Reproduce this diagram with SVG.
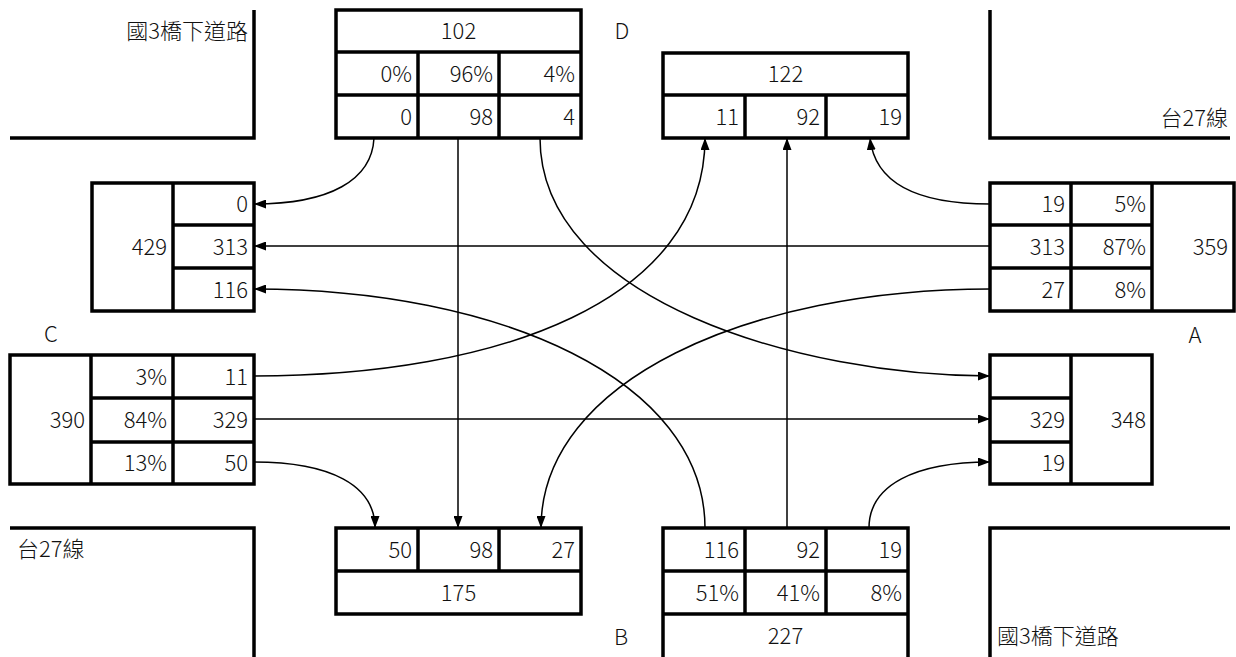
<svg xmlns="http://www.w3.org/2000/svg" width="1236" height="657" viewBox="0 0 1236 657">
<style>
.road{fill:none;stroke:#000;stroke-width:3.5}
.box rect,.box line{fill:none;stroke:#000;stroke-width:3.5}
text{font-family:"Noto Sans CJK TC","Noto Sans",sans-serif;font-size:22px;font-weight:300;fill:#111}
.r{text-anchor:end}
.c{text-anchor:middle}
.conn path{fill:none;stroke:#000;stroke-width:1.5;marker-end:url(#ah)}
</style>
<defs>
<marker id="ah" markerWidth="12" markerHeight="9" refX="12" refY="4.5" orient="auto" markerUnits="userSpaceOnUse"><path d="M0,0 L12,4.5 L0,9 z" fill="#000"/></marker>
</defs>
<rect width="1236" height="657" fill="#fff"/>
<g id="roads">
<path class="road" d="M10,138 H254 V10"/>
<path class="road" d="M990,10 V138 H1230"/>
<path class="road" d="M10,528 H254 V657"/>
<path class="road" d="M1230,528 H990 V657"/>
<text class="r" x="248" y="39">國3橋下道路</text>
<text class="r" x="1228" y="126">台27線</text>
<text x="17" y="557">台27線</text>
<text x="997" y="644">國3橋下道路</text>
</g>
<g id="labels">
<text class="c" x="622" y="39">D</text>
<text class="c" x="1195" y="343">A</text>
<text class="c" x="51" y="342">C</text>
<text class="c" x="621" y="645">B</text>
</g>
<g id="boxD" class="box">
<rect x="336" y="10" width="245" height="128"/>
<line x1="336" y1="52" x2="581" y2="52"/><line x1="336" y1="95" x2="581" y2="95"/>
<line x1="418" y1="52" x2="418" y2="138"/><line x1="499" y1="52" x2="499" y2="138"/>
<text class="c" x="458.5" y="39">102</text>
<text class="r" x="412" y="82">0%</text><text class="r" x="493" y="82">96%</text><text class="r" x="575" y="82">4%</text>
<text class="r" x="412" y="125">0</text><text class="r" x="493" y="125">98</text><text class="r" x="575" y="125">4</text>
</g>
<g id="boxDin" class="box">
<rect x="663" y="53" width="245" height="85"/>
<line x1="663" y1="95" x2="908" y2="95"/>
<line x1="745" y1="95" x2="745" y2="138"/><line x1="826" y1="95" x2="826" y2="138"/>
<text class="c" x="785.5" y="82">122</text>
<text class="r" x="739" y="125">11</text><text class="r" x="820" y="125">92</text><text class="r" x="902" y="125">19</text>
</g>
<g id="boxCin" class="box">
<rect x="92" y="183" width="162" height="128"/>
<line x1="173" y1="183" x2="173" y2="311"/>
<line x1="173" y1="225" x2="254" y2="225"/><line x1="173" y1="268" x2="254" y2="268"/>
<text class="r" x="167" y="255">429</text>
<text class="r" x="248" y="212">0</text><text class="r" x="248" y="255">313</text><text class="r" x="248" y="298">116</text>
</g>
<g id="boxA" class="box">
<rect x="990" y="183" width="244" height="128"/>
<line x1="1071" y1="183" x2="1071" y2="311"/><line x1="1152" y1="183" x2="1152" y2="311"/>
<line x1="990" y1="225" x2="1152" y2="225"/><line x1="990" y1="268" x2="1152" y2="268"/>
<text class="r" x="1065" y="212">19</text><text class="r" x="1065" y="255">313</text><text class="r" x="1065" y="298">27</text>
<text class="r" x="1146" y="212">5%</text><text class="r" x="1146" y="255">87%</text><text class="r" x="1146" y="298">8%</text>
<text class="r" x="1228" y="255">359</text>
</g>
<g id="boxC" class="box">
<rect x="10" y="355" width="244" height="129"/>
<line x1="91" y1="355" x2="91" y2="484"/><line x1="173" y1="355" x2="173" y2="484"/>
<line x1="91" y1="398" x2="254" y2="398"/><line x1="91" y1="442" x2="254" y2="442"/>
<text class="r" x="85" y="428">390</text>
<text class="r" x="167" y="385">3%</text><text class="r" x="167" y="428">84%</text><text class="r" x="167" y="471">13%</text>
<text class="r" x="248" y="385">11</text><text class="r" x="248" y="428">329</text><text class="r" x="248" y="471">50</text>
</g>
<g id="boxAin" class="box">
<rect x="990" y="355" width="162" height="129"/>
<line x1="1071" y1="355" x2="1071" y2="484"/>
<line x1="990" y1="398" x2="1071" y2="398"/><line x1="990" y1="442" x2="1071" y2="442"/>
<text class="r" x="1065" y="428">329</text><text class="r" x="1065" y="471">19</text>
<text class="r" x="1146" y="428">348</text>
</g>
<g id="boxBin" class="box">
<rect x="336" y="528" width="245" height="86"/>
<line x1="336" y1="571" x2="581" y2="571"/>
<line x1="418" y1="528" x2="418" y2="571"/><line x1="499" y1="528" x2="499" y2="571"/>
<text class="r" x="412" y="558">50</text><text class="r" x="493" y="558">98</text><text class="r" x="575" y="558">27</text>
<text class="c" x="458.5" y="601">175</text>
</g>
<g id="boxB" class="box">
<rect x="663" y="528" width="245" height="132"/>
<line x1="663" y1="571" x2="908" y2="571"/><line x1="663" y1="614" x2="908" y2="614"/>
<line x1="745" y1="528" x2="745" y2="614"/><line x1="826" y1="528" x2="826" y2="614"/>
<text class="r" x="739" y="558">116</text><text class="r" x="820" y="558">92</text><text class="r" x="902" y="558">19</text>
<text class="r" x="739" y="601">51%</text><text class="r" x="820" y="601">41%</text><text class="r" x="902" y="601">8%</text>
<text class="c" x="785.5" y="644">227</text>
</g>
<g id="connectors" class="conn">
<path d="M374,138 C372,180 330,204 254,204"/>
<path d="M458,138 V528"/>
<path d="M540,138 C540,300 800,376 990,376"/>
<path d="M990,204 C920,204 875,185 870,138"/>
<path d="M990,246 H254"/>
<path d="M990,289 C750,289 541,380 541,528"/>
<path d="M254,376 C500,376 705,300 705,138"/>
<path d="M254,419 H990"/>
<path d="M254,462 C330,462 375,485 375,528"/>
<path d="M705,528 C705,380 500,289 254,289"/>
<path d="M787,528 V138"/>
<path d="M869,528 C869,485 915,462 990,462"/>
</g>
</svg>
